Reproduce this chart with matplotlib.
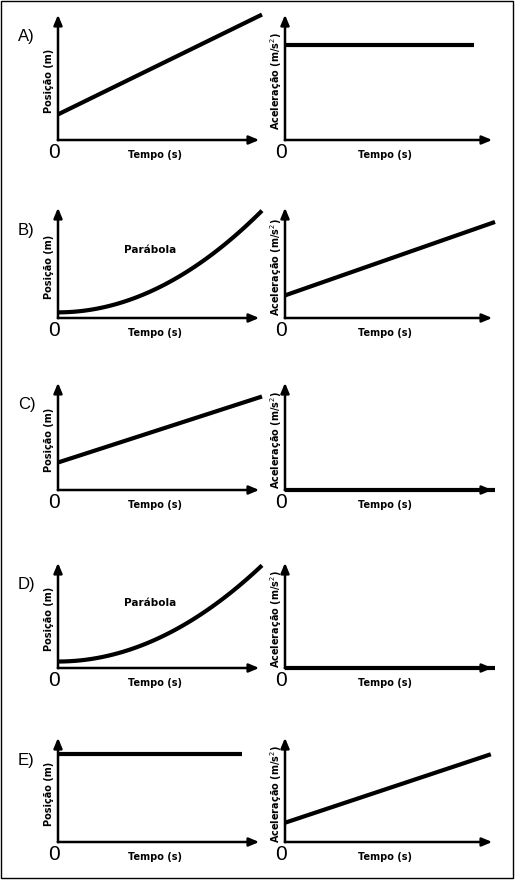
import numpy as np
import matplotlib.pyplot as plt
from matplotlib.patches import Rectangle

row_labels = ["A)", "B)", "C)", "D)", "E)"]
pos_kind = ["lin", "par", "lin", "par", "const"]
pos_start = [0.20, 0.05, 0.25, 0.06, 0.82]
pos_end = [0.98, 0.95, 0.85, 0.95, 0.82]
pos_xend = [1.0, 1.0, 1.0, 1.0, 0.9]
acc_start = [0.74, 0.20, 0.0, 0.0, 0.18]
acc_end = [0.74, 0.85, 0.0, 0.0, 0.82]
acc_xend = [0.9, 1.0, 1.0, 1.0, 0.98]
show_parabola = [False, True, False, True, False]

W, H = 515, 880
fig = plt.figure(figsize=(W / 100, H / 100), dpi=100)
bg = fig.add_axes([0, 0, 1, 1])
bg.set_xlim(0, W); bg.set_ylim(H, 0); bg.axis("off")
bg.add_patch(Rectangle((1, 1), W - 3, H - 3, fill=False, lw=1, ec="black"))

rows = [(12, 140), (205, 318), (380, 490), (560, 668), (735, 842)]
cols = [(58, 262), (285, 495)]

for i, (top, bot) in enumerate(rows):
    bg.text(18, top + 25, row_labels[i], fontsize=12, va="center", family="Liberation Sans")
    for j, (left, right) in enumerate(cols):
        bg.annotate("", xy=(right, bot), xytext=(left - 3, bot),
                    arrowprops=dict(arrowstyle="-|>,head_length=0.6,head_width=0.25", lw=1.8, color="black"))
        bg.annotate("", xy=(left, top), xytext=(left, bot + 3),
                    arrowprops=dict(arrowstyle="-|>,head_length=0.6,head_width=0.25", lw=1.8, color="black"))
        bg.text(left - 4, bot + 3, "0", fontsize=15, ha="center", va="top", family="Liberation Sans")
        bg.text((left + right) / 2 - 5, bot + 15, "Tempo (s)", fontsize=7, fontweight="bold",
                ha="center", va="center")
        ylabel = "Posição (m)" if j == 0 else "Aceleração (m/s$^2$)"
        bg.text(left - 9, (top + bot) / 2 + 5, ylabel, fontsize=7, fontweight="bold",
                rotation=90, ha="center", va="center")
        h = bot - top
        w = right - left
        if j == 0:
            xe = pos_xend[i]; x = np.linspace(0, xe, 100)
            if pos_kind[i] == "par":
                y = pos_start[i] + (pos_end[i] - pos_start[i]) * (x / xe) ** 2
            else:
                y = pos_start[i] + (pos_end[i] - pos_start[i]) * (x / xe)
        else:
            xe = acc_xend[i]; x = np.linspace(0, xe, 100)
            y = acc_start[i] + (acc_end[i] - acc_start[i]) * (x / xe)
        bg.plot(left + x * w, bot - y * h, color="black", lw=3, solid_capstyle="butt")
        if j == 0 and show_parabola[i]:
            bg.text(left + 0.45 * w, top + 0.4 * h, "Parábola", fontsize=7.5, fontweight="bold",
                    ha="center", va="center")

fig.savefig("out.png", dpi=100)
